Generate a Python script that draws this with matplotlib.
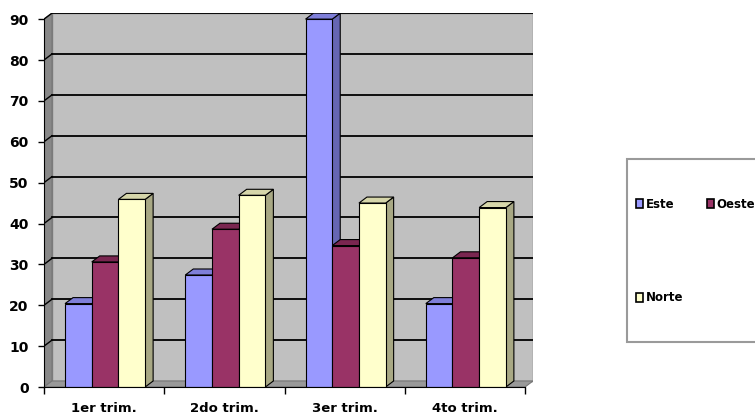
import matplotlib.pyplot as plt
import numpy as np
from matplotlib.patches import Polygon, Rectangle, Patch

categories = ['1er trim.', '2do trim.', '3er trim.', '4to trim.']
series = ['Este', 'Oeste', 'Norte']
este = [20.4, 27.4, 90, 20.4]
oeste = [30.6, 38.6, 34.6, 31.6]
norte = [45.9, 46.9, 45, 43.9]
values = [este, oeste, norte]

front_cols = ['#9999FF', '#993366', '#FFFFCC']
top_cols = ['#7F7FD9', '#7A2650', '#D6D6AA']
side_cols = ['#6666B3', '#6B1F45', '#A8A884']

fig = plt.figure(figsize=(7.55, 4.19), dpi=100)
W, H = 755, 419
ax = fig.add_axes([44/W, 1-387/H, (533-44)/W, (387-13)/H])

# pseudo 3d depth
dx = 0.0665
dy = 1.47
ymax = 91.5
ax.set_xlim(0, 4+dx)
ax.set_ylim(0, ymax)

# walls and floor
ax.add_patch(Polygon([(dx, dy), (4+dx, dy), (4+dx, ymax), (dx, ymax)],
                     facecolor='#C0C0C0', edgecolor='#808080', lw=1, zorder=1))
ax.add_patch(Polygon([(0, 0), (dx, dy), (dx, 90+dy), (0, 90)],
                     facecolor='#888888', edgecolor='#777777', lw=0.8, zorder=1))
ax.add_patch(Polygon([(0, 0), (4, 0), (4+dx, dy), (dx, dy)],
                     facecolor='#999999', edgecolor='#777777', lw=0.8, zorder=1))

for v in range(10, 91, 10):
    ax.plot([dx, 4+dx], [v+dy, v+dy], color='black', lw=1.3, zorder=2)
    ax.plot([0, dx], [v, v+dy], color='black', lw=1.0, zorder=2)

# bars
w = 0.222
z = 3
for i in range(len(categories)):
    for j in range(len(series)):
        v = values[j][i]
        x0 = i + 0.175 + j*w
        ax.add_patch(Polygon([(x0+w, 0), (x0+w+dx, dy), (x0+w+dx, v+dy), (x0+w, v)],
                             facecolor=side_cols[j], edgecolor='black', lw=0.8, zorder=z))
        ax.add_patch(Polygon([(x0, v), (x0+w, v), (x0+w+dx, v+dy), (x0+dx, v+dy)],
                             facecolor=top_cols[j], edgecolor='black', lw=0.8, zorder=z))
        ax.add_patch(Rectangle((x0, 0), w, v, facecolor=front_cols[j],
                               edgecolor='black', lw=0.8, zorder=z+1))
        z += 2

# axes
for s in ['top', 'right']:
    ax.spines[s].set_visible(False)
ax.spines['left'].set_bounds(0, 90)
ax.spines['bottom'].set_bounds(0, 4)
ax.spines['left'].set_zorder(50)
ax.spines['bottom'].set_zorder(50)
ax.set_yticks(range(0, 91, 10))
ax.set_yticklabels([str(t) for t in range(0, 91, 10)], fontsize=10, fontweight='bold')
ax.tick_params(axis='y', length=4, width=1, pad=7)
ax.set_xticks(range(0, 5))
ax.set_xticklabels([])
ax.tick_params(axis='x', which='major', length=5, width=1)
ax.set_xticks(np.arange(len(categories))+0.5, minor=True)
ax.set_xticklabels(categories, minor=True, fontsize=9.5, fontweight='bold')
ax.tick_params(axis='x', which='minor', length=0, pad=11)
ax.patch.set_visible(False)

# legend frame (runs off the right edge like the original)
fig.patches.append(Rectangle((627/W, 1-342/H), 140/W, (342-159)/H, transform=fig.transFigure,
                             facecolor='white', edgecolor='#9A9A9A', lw=1.5, zorder=0))

handles = [Patch(facecolor=front_cols[j], edgecolor='black', lw=1.2) for j in range(3)]
order = [0, 2, 1]
leg = fig.legend([handles[k] for k in order], [series[k] for k in order], ncol=2,
                 loc='upper left', bbox_to_anchor=(636/W, 1-198/H),
                 prop={'size': 8.5, 'weight': 'bold'}, handlelength=0.6, handleheight=0.8,
                 handletextpad=0.2, columnspacing=2.0, borderpad=0, labelspacing=6.8,
                 frameon=False, borderaxespad=0)

fig.savefig('out.png', dpi=100)
